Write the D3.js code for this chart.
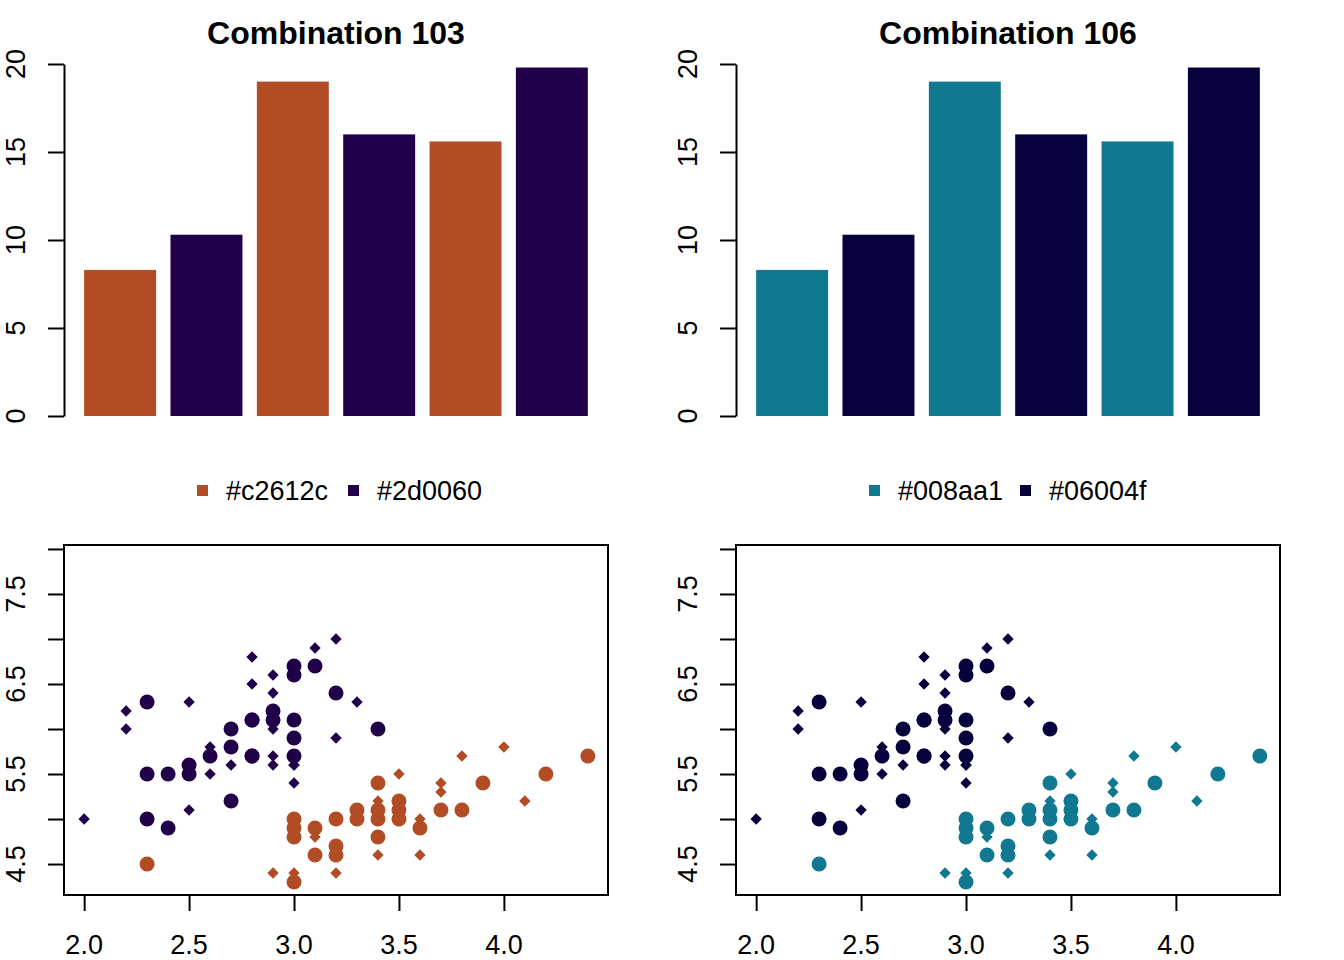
<!DOCTYPE html>
<html>
<head>
<meta charset="utf-8">
<script src="https://cdn.jsdelivr.net/npm/d3@7"></script>
<style>
  html, body { margin: 0; padding: 0; background: #ffffff; }
  svg { display: block; }
  text { font-family: "Liberation Sans", Arial, Helvetica, sans-serif; fill: #000; }
</style>
</head>
<body>
<script>
// ---------------- DATA ----------------
const panelTitles = ["Combination 103", "Combination 106"];
const legendLabels = [["#c2612c", "#2d0060"], ["#008aa1", "#06004f"]];
const panelColors = [["#b14c24", "#21004a"], ["#107890", "#06003c"]];

const barCategories = ["A", "B", "C", "D", "E", "F"];
const barValues = [8.3, 10.3, 19.0, 16.0, 15.6, 19.8];
const barTicks = [0, 5, 10, 15, 20];

// Group 1 (first colour): x = sepal width, y = sepal length
const group1X = [3.5,3.0,3.2,3.1,3.6,3.9,3.4,3.4,2.9,3.1,3.7,3.4,3.0,3.0,4.0,4.4,3.9,3.5,3.8,3.8,3.4,3.7,3.6,3.3,3.4,3.0,3.4,3.5,3.4,3.2,3.1,3.4,4.1,4.2,3.1,3.2,3.5,3.6,3.0,3.4,3.5,2.3,3.2,3.5,3.8,3.0,3.8,3.2,3.7,3.3];
const group1Y = [5.1,4.9,4.7,4.6,5.0,5.4,4.6,5.0,4.4,4.9,5.4,4.8,4.8,4.3,5.8,5.7,5.4,5.1,5.7,5.1,5.4,5.1,4.6,5.1,4.8,5.0,5.0,5.2,5.2,4.7,4.8,5.4,5.2,5.5,4.9,5.0,5.5,4.9,4.4,5.1,5.0,4.5,4.4,5.0,5.1,4.8,5.1,4.6,5.3,5.0];
// Group 2 (second colour)
const group2X = [3.2,3.2,3.1,2.3,2.8,2.8,3.3,2.4,2.9,2.7,2.0,3.0,2.2,2.9,2.9,3.1,3.0,2.7,2.2,2.5,3.2,2.8,2.5,2.8,2.9,3.0,2.8,3.0,2.9,2.6,2.4,2.4,2.7,2.7,3.0,3.4,3.1,2.3,3.0,2.5,2.6,3.0,2.6,2.3,2.7,3.0,2.9,2.9,2.5,2.8];
const group2Y = [7.0,6.4,6.9,5.5,6.5,5.7,6.3,4.9,6.6,5.2,5.0,5.9,6.0,6.1,5.6,6.7,5.6,5.8,6.2,5.6,5.9,6.1,6.3,6.1,6.4,6.6,6.8,6.7,6.0,5.7,5.5,5.5,5.8,6.0,5.4,6.0,6.7,6.3,5.6,5.5,5.5,6.1,5.8,5.0,5.6,5.7,5.7,6.2,5.1,5.7];

const scatterXTicks = [2.0, 2.5, 3.0, 3.5, 4.0];
const scatterYTicks = [4.5, 5.0, 5.5, 6.0, 6.5, 7.0, 7.5, 8.0];
const scatterYLabels = [4.5, 5.5, 6.5, 7.5];
const xDomain = [1.904, 4.496];
const yDomain = [4.156, 8.044];

// ---------------- DRAW ----------------
const W = 1344, H = 960;
const svg = d3.select("body").append("svg").attr("width", W).attr("height", H);

const FONT = 27;
const TICK = 16;

function rotLabel(g, x, y, txt) {
  g.append("text")
    .attr("transform", `translate(${x},${y}) rotate(-90)`)
    .attr("text-anchor", "middle")
    .attr("font-size", FONT)
    .text(txt);
}

panelTitles.forEach((title, p) => {
  const off = p * 672;
  const cols = panelColors[p];
  const g = svg.append("g").attr("transform", `translate(${off},0)`);

  // ---- bar chart ----
  const xb = d3.scaleLinear().domain([-0.08, 7.48]).range([64, 608]);
  const yb = d3.scaleLinear().domain([0, 20]).range([416, 64]);

  g.append("text").attr("x", 336).attr("y", 44).attr("text-anchor", "middle")
    .attr("font-size", 32).attr("font-weight", "bold").text(title);

  g.selectAll("rect.bar").data(barValues).enter().append("rect")
    .attr("class", "bar")
    .attr("x", (d, i) => xb(0.2 + i * 1.2))
    .attr("width", (d, i) => xb(1.2 + i * 1.2) - xb(0.2 + i * 1.2))
    .attr("y", d => yb(d))
    .attr("height", d => yb(0) - yb(d))
    .attr("fill", (d, i) => cols[i % 2]);

  const ya = d3.axisLeft(yb).tickValues(barTicks).tickSize(TICK).tickSizeOuter(0).tickFormat("");
  const yag = g.append("g").attr("transform", "translate(64,0)").call(ya);
  yag.selectAll("path,line").attr("stroke", "#000").attr("stroke-width", 2);
  barTicks.forEach(t => rotLabel(g, 25, yb(t), String(t)));

  // ---- legend ----
  const legX = [197, 348];
  legendLabels[p].forEach((lab, i) => {
    g.append("rect").attr("x", legX[i]).attr("y", 485).attr("width", 11).attr("height", 11).attr("fill", cols[i]);
    g.append("text").attr("x", legX[i] + 29).attr("y", 500).attr("font-size", FONT).text(lab);
  });

  // ---- scatter ----
  const xs = d3.scaleLinear().domain(xDomain).range([64, 608]);
  const ys = d3.scaleLinear().domain(yDomain).range([895, 545]);

  const xa = d3.axisBottom(xs).tickValues(scatterXTicks).tickSize(TICK).tickSizeOuter(0).tickFormat("");
  const xag = g.append("g").attr("transform", "translate(0,895)").call(xa);
  xag.select("path").remove();
  xag.selectAll("line").attr("stroke", "#000").attr("stroke-width", 2);
  scatterXTicks.forEach(t => {
    g.append("text").attr("x", xs(t)).attr("y", 954).attr("text-anchor", "middle")
      .attr("font-size", FONT).text(d3.format(".1f")(t));
  });

  const yas = d3.axisLeft(ys).tickValues(scatterYTicks).tickSize(TICK).tickSizeOuter(0).tickFormat("");
  const yasg = g.append("g").attr("transform", "translate(64,0)").call(yas);
  yasg.select("path").remove();
  yasg.selectAll("line").attr("stroke", "#000").attr("stroke-width", 2);
  scatterYLabels.forEach(t => rotLabel(g, 25, ys(t), d3.format(".1f")(t)));

  const pts = [];
  group1X.forEach((x, i) => pts.push({ x, y: group1Y[i], c: cols[0], i }));
  group2X.forEach((x, i) => pts.push({ x, y: group2Y[i], c: cols[1], i: i + 50 }));

  const diamond = d3.symbol().type(d3.symbolDiamond2).size(2 * 6.4 * 6.4);
  pts.forEach(d => {
    if (d.i % 2 === 0) {
      g.append("path").attr("d", diamond())
        .attr("transform", `translate(${xs(d.x)},${ys(d.y)})`)
        .attr("fill", d.c);
    } else {
      g.append("circle").attr("cx", xs(d.x)).attr("cy", ys(d.y)).attr("r", 7.5).attr("fill", d.c);
    }
  });

  g.append("rect").attr("x", 64).attr("y", 545).attr("width", 544).attr("height", 350)
    .attr("fill", "none").attr("stroke", "#000").attr("stroke-width", 2);
});
</script>
</body>
</html>
